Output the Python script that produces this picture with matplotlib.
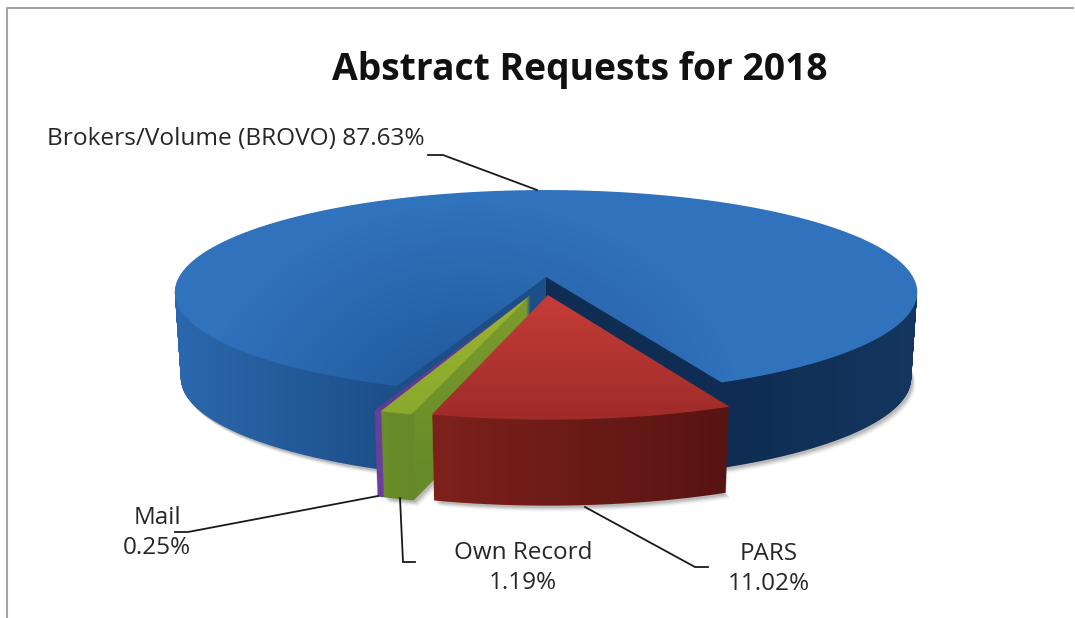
import numpy as np
import matplotlib
matplotlib.use("Agg")
import matplotlib.pyplot as plt
from matplotlib.colors import to_rgb
from matplotlib.path import Path
from matplotlib.patches import PathPatch

# === Dati ===
categories = ["Brokers/Volume (BROVO)", "Mail", "Own Record", "PARS"]
shares = [87.63, 0.25, 1.19, 11.02]

# === Stile: prospettiva e spostamento delle fette ===
offsets = [(0.0, 0.0), (-0.041, -0.175), (-0.041, -0.175), (0.005, -0.175)]
CX, CY = 546, 277
R, A, P = 367.0, 100.0, 0.15
DEPTH = 86


def project(poly, depth=0.0):
    u, v = poly[:, 0], poly[:, 1]
    w = 1 + P * v
    narrow = 1 - 0.016 * depth / DEPTH  # il fondo e' un po' piu' stretto
    return np.column_stack([CX + R * narrow * u / w, CY - A * v / w + depth])


def outline(path):
    # campiona le curve del wedge per avere un bordo liscio
    pts = []
    for curve, code in path.iter_bezier():
        if code == Path.MOVETO:
            pts.append(curve.control_points)
        else:
            pts.append(curve(np.linspace(0, 1, 12)))
    return np.vstack(pts)


def lerp(c1, c2, t):
    c1, c2 = np.array(to_rgb(c1)), np.array(to_rgb(c2))
    return c1 + (c2 - c1) * np.clip(t, 0, 1)[..., None]


def compound(polys):
    return Path.make_compound_path(*[Path(p, closed=True) for p in polys])


def paint(ax, img, path, zorder):
    im = ax.imshow(img, extent=(0, 1075, 618, 0), origin="upper", aspect="auto",
                   zorder=zorder, interpolation="bilinear")
    clip = PathPatch(path, transform=ax.transData, fc="none", ec="none")
    ax.add_patch(clip)
    im.set_clip_path(clip)


xx, yy = np.meshgrid(np.arange(1075) + 0.5, np.arange(618) + 0.5)

fig = plt.figure(figsize=(10.75, 6.18), dpi=100)
ax = fig.add_axes([0, 0, 1, 1])

wedges, _ = ax.pie(shares, startangle=-65.6, counterclock=True, radius=1,
                   colors=["none"] * 4)
flat = []
for w, off in zip(wedges, offsets):
    w.set_center(off)
    w.set_visible(False)
    flat.append(outline(w.get_path()))

# === Colori dei lati e del piano ===
dist = np.hypot(xx - 470, (yy - 420) * 1.25)
blue_top = lerp("#1d5494", "#3172bd", dist / 270)
blue_side = np.where(
    (xx < 546)[..., None],
    lerp("#2c68ae", "#1c4f88", (xx - 175) / 215),
    lerp("#0f2d52", "#143660", (xx - 730) / 190),
)
mail_top = lerp("#5f3b92", "#5f3b92", xx * 0)
mail_side = lerp("#6a3f9c", "#5c3a90", xx * 0)
own_top = lerp("#98b630", "#8aa82c", (yy - 295) / 120)
own_side = np.where((xx < 414)[..., None],
                    lerp("#6a8d2b", "#66882a", (xx - 381) / 33),
                    lerp("#7c9c2d", "#668a2a", (yy - 300) / 180))
pars_top = lerp("#c43c38", "#9e2c29", (yy - 300) / 120)
pars_side = lerp("#7e211c", "#571412", (xx - 430) / 300)

tops = [blue_top, mail_top, own_top, pars_top]
sides = [blue_side, mail_side, own_side, pars_side]

# === Ombra sotto il disco ===
for k, alpha in zip([6, 5, 4, 3, 2], [0.05, 0.08, 0.12, 0.16, 0.2]):
    for poly in [flat[0], flat[3], flat[2]]:
        pts = project(poly, DEPTH + k)
        pts[:, 0] += k * 0.8
        ax.fill(pts[:, 0], pts[:, 1], color="#707070", alpha=alpha, lw=0, zorder=1)

# === Fette: lato e piano, dietro a davanti ===
z = 2
for poly, top, side in zip(flat, tops, sides):
    layers = [project(poly, d) for d in np.arange(DEPTH, 0, -1.0)]
    paint(ax, side, compound(layers), z)
    paint(ax, top, compound([project(poly)]), z + 1)
    z += 2

# === Etichette e linee guida ===
text_col = "#262626"
labels = [f"{c}\n{s:.2f}%" for c, s in zip(categories, shares)]
ax.text(236, 139, f"{categories[0]} {shares[0]:.2f}%", ha="center", va="center",
        fontsize=17.6, family="Open Sans", color=text_col, zorder=20)
for lab, x, y in zip(labels[1:], [157, 523, 769], [533, 568, 569]):
    ax.text(x, y, lab, ha="center", va="center", fontsize=17.5, family="Open Sans",
            color=text_col, linespacing=1.36, zorder=20)
ax.text(580, 70, "Abstract Requests for 2018", ha="center", va="center",
        fontsize=26.8, fontweight="bold", family="Open Sans", color="#111111", zorder=20)

leaders_x = [[428, 443, 537], [175, 188, 378], [400, 403, 415], [585, 695, 708]]
leaders_y = [[155, 155, 190], [532, 532, 496], [498, 562, 562], [507, 567, 567]]
for lx, ly in zip(leaders_x, leaders_y):
    ax.plot(lx, ly, color="#1a1a1a", lw=1.3, zorder=15, solid_joinstyle="miter")

# === Cornice ===
ax.plot([7, 7, 1073], [618, 8, 8], color="#a3a3a3", lw=1.5, zorder=20)

ax.set_xlim(0, 1075)
ax.set_ylim(618, 0)
ax.set_aspect("auto")
ax.axis("off")

fig.savefig("out.png", dpi=100, facecolor="white")
